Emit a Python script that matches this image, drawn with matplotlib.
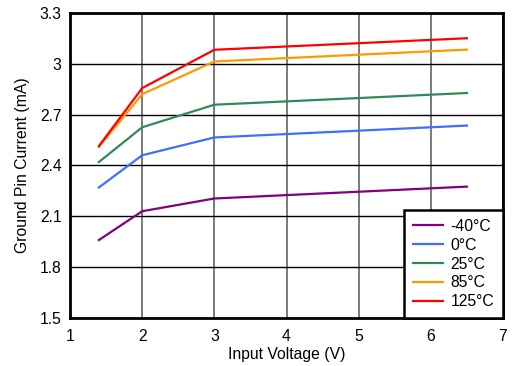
import matplotlib
matplotlib.use('Agg')
import matplotlib.pyplot as plt

plt.rcParams['font.family'] = ['Liberation Sans', 'DejaVu Sans']

# Data
vin = [1.4, 2, 3, 6.5]
labels = ['-40°C', '0°C', '25°C', '85°C', '125°C']
i_m40 = [1.96, 2.13, 2.205, 2.275]
i_0 = [2.27, 2.46, 2.565, 2.635]
i_25 = [2.42, 2.625, 2.758, 2.827]
i_85 = [2.51, 2.82, 3.013, 3.083]
i_125 = [2.514, 2.856, 3.082, 3.15]
series = [i_m40, i_0, i_25, i_85, i_125]
colors = ['#800080', '#3f6fff', '#2e8b57', '#ff9900', '#ff0000']

fs = 11.3

fig = plt.figure(figsize=(5.13, 3.66), dpi=100)
ax = fig.add_axes([0.1365, 0.131, 0.844, 0.834])

for vals, lab, col in zip(series, labels, colors):
    ax.plot(vin, vals, color=col, lw=1.6, label=lab)

ax.set_xlim(1, 7)
ax.set_ylim(1.5, 3.3)
ax.set_xticks(range(1, 8))
ax.set_yticks([1.5, 1.8, 2.1, 2.4, 2.7, 3.0, 3.3])
ax.set_yticklabels(['1.5', '1.8', '2.1', '2.4', '2.7', '3', '3.3'])
ax.xaxis.grid(True, color='#707070', lw=1.3)
ax.yaxis.grid(True, color='black', lw=1.0)
ax.set_axisbelow(True)
ax.tick_params(axis='x', length=0, labelsize=fs, pad=8)
ax.tick_params(axis='y', length=0, labelsize=fs, pad=6)

for s in ax.spines.values():
    s.set_linewidth(2)

ax.set_xlabel('Input Voltage (V)', fontsize=fs, labelpad=2)
ax.set_ylabel('Ground Pin Current (mA)', fontsize=fs, labelpad=7)

leg = ax.legend(loc='lower right', fontsize=fs, fancybox=False, framealpha=1,
                edgecolor='black', borderaxespad=0, handlelength=1.9,
                handletextpad=0.5, labelspacing=0.25, borderpad=0.55)
leg.get_frame().set_linewidth(1.8)

fig.savefig('out.png', dpi=100)
